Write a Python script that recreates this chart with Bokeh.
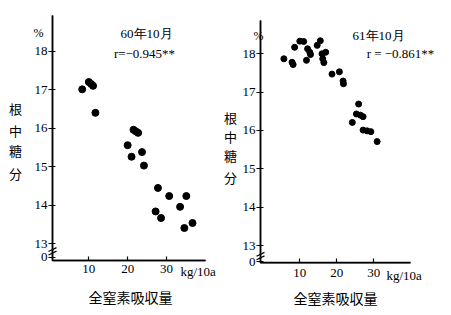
from bokeh.plotting import figure
from bokeh.models import ColumnDataSource, Label, FixedTicker, LinearAxis, Range1d
from bokeh.embed import file_html
from bokeh.resources import INLINE

# ---- data ----
y_ticks = [13, 14, 15, 16, 17, 18]
x_ticks = [10, 20, 30]
x_title = "全窒素吸収量"
y_title = ["根", "中", "糖", "分"]
x_unit = "kg/10a"
y_unit = "%"

n60 = [8.3, 10.0, 10.6, 11.1, 11.7, 21.5, 22.1, 22.7, 20.0, 21.0, 23.7, 24.2,
       27.8, 30.7, 35.1, 33.5, 27.2, 28.6, 34.6, 36.7]
s60 = [17.01, 17.20, 17.15, 17.10, 16.40, 15.96, 15.92, 15.88, 15.56, 15.26, 15.38, 15.03,
       14.45, 14.24, 14.24, 13.96, 13.84, 13.67, 13.41, 13.54]

n61 = [5.7, 7.9, 8.2, 8.6, 10.0, 11.05, 11.8, 12.1, 12.7, 12.9, 14.7, 15.55, 16.0, 16.2,
       16.5, 17.0, 18.7, 20.7, 21.7, 21.8, 25.9, 25.3, 26.4, 27.1, 24.2, 27.1, 28.2,
       29.2, 30.9]
s61 = [17.87, 17.78, 17.72, 18.17, 18.33, 18.32, 17.83, 18.13, 18.04, 17.98, 18.22, 18.34,
       18.00, 17.87, 17.77, 18.04, 17.47, 17.53, 17.29, 17.22, 16.69, 16.43, 16.40, 16.36,
       16.21, 16.01, 15.99, 15.97, 15.71]

title60 = "60年10月"
r60 = "r=−0.945**"
title61 = "61年10月"
r61 = "r = −0.861**"

SERIF = "Liberation Serif"
CJK = "Noto Sans CJK JP"
INK = "black"
W, H = 451, 315

# page-pixel calibration of each panel: (x origin px, px per x unit, px of y=18, px per y unit)
CAL60 = (49.45, 3.885, 50.7, 38.52)
CAL61 = (262.3, 3.70, 53.3, 38.34)


def mappers(cal):
    ox, kx, y18, ky = cal
    return (lambda px: (px - ox) / kx), (lambda py: 18 - (py - y18) / ky), kx


X1, Y1, _ = mappers(CAL60)
X2, Y2, _ = mappers(CAL61)

p = figure(width=W, height=H,
           x_range=Range1d(X1(0), X1(W)), y_range=Range1d(Y1(H), Y1(0)),
           x_axis_type=None, y_axis_type=None,
           output_backend="svg", toolbar_location=None, min_border=0)
p.outline_line_color = None
p.extra_x_ranges = {"r": Range1d(X2(0), X2(W))}
p.extra_y_ranges = {"r": Range1d(Y2(H), Y2(0))}


def panel(n, s, cal, xn, yn, axis, zero_y, texts, dot):
    X, Y, kx = mappers(cal)
    ax_px, ax_end_px, ax_top_py, ax_bot_py, lab_standoff = axis
    x0, x1 = X(ax_px), X(ax_end_px)
    y0, y1 = Y(ax_bot_py), Y(ax_top_py)
    rk = dict(x_range_name=xn, y_range_name=yn)

    # axis rules
    p.line([x0, x0, x1], [y1, y0, y0], line_color=INK, line_width=1.5, **rk)

    src = ColumnDataSource(dict(n=n, s=s))
    p.scatter("n", "s", source=src, size=dot, color="black", **rk)

    ya = LinearAxis(fixed_location=x0, bounds=(y0, y1),
                    ticker=FixedTicker(ticks=y_ticks + [zero_y]), **rk)
    ya.major_label_overrides = {zero_y: "0"}
    ya.minor_tick_line_color = None
    ya.axis_line_color = INK
    ya.axis_line_width = 1.5
    ya.major_tick_out = 4
    ya.major_tick_in = 3
    ya.major_label_standoff = 1
    ya.major_tick_line_width = 1.2
    ya.major_tick_line_color = INK
    ya.major_label_text_font = SERIF
    ya.major_label_text_font_size = "13px"
    ya.major_label_text_color = INK
    p.add_layout(ya, "left")

    xa = LinearAxis(fixed_location=y0, bounds=(x0, x1),
                    ticker=FixedTicker(ticks=x_ticks), **rk)
    xa.minor_tick_line_color = None
    xa.axis_line_color = INK
    xa.axis_line_width = 1.5
    xa.major_tick_out = 0
    xa.major_tick_in = 4
    xa.major_tick_line_width = 1.2
    xa.major_label_standoff = lab_standoff
    xa.major_tick_line_color = INK
    xa.major_label_text_font = SERIF
    xa.major_label_text_font_size = "13px"
    xa.major_label_text_color = INK
    p.add_layout(xa, "below")

    # axis break mark near the "0"
    for off in (0.0, 0.09):
        p.line([x0 - 4 / kx, x0 + 4 / kx],
               [zero_y + 0.06 + off, zero_y + 0.16 + off],
               line_color=INK, line_width=1.2, **rk)

    def lab(px, py, text, font=SERIF, size="13px", align="center"):
        p.add_layout(Label(x=X(px), y=Y(py), text=text, text_font=font,
                           text_font_size=size, text_color=INK,
                           text_align=align, text_baseline="middle", **rk))

    (tpos, rpos, ypos, upos, kpos, xtpos) = texts
    lab(*tpos[:2], tpos[2])
    lab(*rpos[:2], rpos[2])
    for ch, (px, py) in zip(y_title, ypos):
        lab(px, py, ch, font=CJK, size="13px")
    lab(upos[0], upos[1], y_unit, size="12px")
    lab(kpos[0], kpos[1], x_unit, align="left")
    lab(xtpos[0], xtpos[1], x_title, font=CJK, size="14px")


panel(n60, s60, CAL60, "default", "default",
      (52, 205, 15, 260, 4), 12.65,
      ((146, 33, title60), (144, 53, r60),
       [(15, 108), (15, 130), (15, 150), (15, 173)],
       (38, 32), (180, 271), (130, 296)), 7)
panel(n61, s61, CAL61, "r", "r",
      (260, 410, 20, 262.3, 6), 12.57,
      ((378, 35, title61), (400, 53, r61),
       [(230, 117), (230, 136), (230, 155), (230, 177)],
       (258, 35), (386, 275), (335, 297)), 6)

open("out.html", "w").write(file_html(p, INLINE))
